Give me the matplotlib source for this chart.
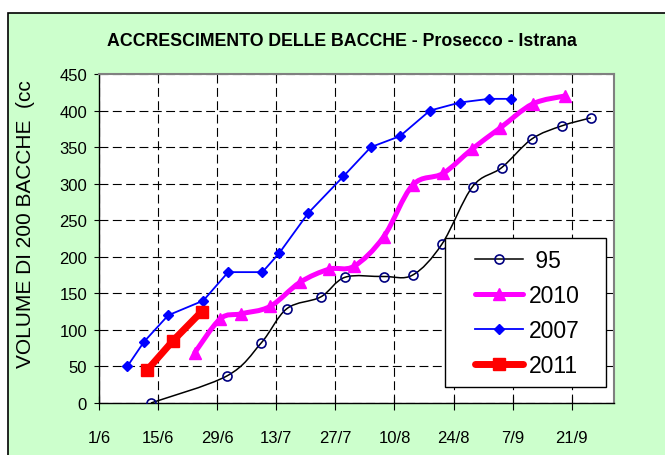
import matplotlib

matplotlib.use("Agg")
import matplotlib.pyplot as plt
import numpy as np
from matplotlib import font_manager as fm
from matplotlib.lines import Line2D
from matplotlib.patches import PathPatch, Rectangle
from matplotlib.path import Path

# x values are days after 1 June
days_95 = [12.3, 30.3, 38.4, 44.5, 52.5, 58.3, 67.4, 74.3, 81.2, 88.5, 95.4, 102.5, 109.6, 116.5]
vol_95 = [0, 37, 82, 129, 145, 172, 173, 175, 217, 296, 322, 361, 379, 390]

days_2010 = [22.7, 28.7, 33.6, 40.5, 47.6, 54.5, 60.4, 67.4, 74.3, 81.5, 88.3, 95.0, 102.7, 110.4]
vol_2010 = [69, 115, 122, 132, 165, 183, 187, 227, 298, 314, 347, 376, 409, 420]

days_2007 = [6.7, 10.7, 16.4, 24.7, 30.6, 38.7, 42.7, 49.6, 57.9, 64.4, 71.3, 78.4, 85.5, 92.4, 97.6]
vol_2007 = [50, 84, 120, 140, 179, 179, 205, 260, 310, 350, 365, 400, 411, 416, 416]

days_2011 = [11.4, 17.5, 24.3]
vol_2011 = [45, 85, 125]

tick_days = [0, 14, 28, 42, 56, 70, 84, 98, 112]
tick_labels = ["1/6", "15/6", "29/6", "13/7", "27/7", "10/8", "24/8", "7/9", "21/9"]

installed = {f.name for f in fm.fontManager.ttflist}
if "Liberation Sans Narrow" in installed:
    narrow, title_size, legend_size = "Liberation Sans Narrow", 15, 20
else:
    narrow, title_size, legend_size = "Liberation Sans", 12.8, 16.5
plt.rcParams["font.family"] = ["Liberation Sans", "DejaVu Sans"]


def smooth_path(x, y):
    """Excel-style smoothed line as cubic Bezier segments."""
    pts = np.column_stack([x, y]).astype(float)
    ext = np.vstack([pts[0], pts, pts[-1]])
    verts = [pts[0]]
    codes = [Path.MOVETO]
    for i in range(1, len(ext) - 2):
        p0, p1, p2, p3 = ext[i - 1], ext[i], ext[i + 1], ext[i + 2]
        verts += [p1 + (p2 - p0) / 6, p2 - (p3 - p1) / 6, p2]
        codes += [Path.CURVE4] * 3
    return Path(verts, codes)


fig = plt.figure(figsize=(6.65, 4.56), dpi=100, facecolor="white")
fig.patches.append(Rectangle((8 / 665, -0.1), 1.2, 0.1 + (456 - 14) / 456,
                             transform=fig.transFigure, facecolor="#CCFFCC",
                             edgecolor="black", linewidth=1.2, zorder=-10))

ax = fig.add_axes([99 / 665, 52 / 456, 515 / 665, 329 / 456])
ax.set_facecolor("white")

# 95
ax.add_patch(PathPatch(smooth_path(days_95, vol_95), fill=False, edgecolor="black",
                       linewidth=1.1, zorder=3))
ax.plot(days_95, vol_95, linestyle="none", marker="o", markersize=6.5,
        markerfacecolor="none", markeredgecolor="#000080", markeredgewidth=1.2, zorder=4)

# 2010
ax.add_patch(PathPatch(smooth_path(days_2010, vol_2010), fill=False, edgecolor="#FF00FF",
                       linewidth=3.6, capstyle="round", joinstyle="round", zorder=5))
ax.plot(days_2010, vol_2010, linestyle="none", marker="^", markersize=8.5,
        color="#FF00FF", zorder=6)

# 2007
ax.plot(days_2007, vol_2007, color="#0000FF", linewidth=1.3, marker="D", markersize=5.5,
        zorder=7)

# 2011
ax.plot(days_2011, vol_2011, color="#FF0000", linewidth=5, marker="s", markersize=8.5,
        solid_capstyle="round", solid_joinstyle="round", zorder=8)

ax.set_xlim(0, 122)
ax.set_ylim(0, 450)
ax.set_xticks(tick_days)
ax.set_xticklabels(tick_labels)
ax.set_yticks(range(0, 451, 50))
ax.tick_params(axis="x", direction="inout", length=9.4, width=0.8, pad=15,
               labelsize=12, colors="black")
ax.tick_params(axis="y", direction="out", length=3.6, width=0.8, pad=5,
               labelsize=12, colors="black")
ax.grid(True, color="black", linewidth=0.8, linestyle=(0, (8, 4)))
ax.set_axisbelow(True)
for side in ("left", "bottom"):
    ax.spines[side].set_color("black")
    ax.spines[side].set_linewidth(1.0)
for side in ("top", "right"):
    ax.spines[side].set_color("#808080")
    ax.spines[side].set_linewidth(1.5)

fig.text(342 / 665, (456 - 42) / 456, "ACCRESCIMENTO DELLE BACCHE - Prosecco - Istrana",
         ha="center", va="center", fontsize=title_size, fontweight="bold", family=narrow)
fig.text(26 / 665, (456 - 224) / 456, "VOLUME DI 200 BACCHE  (cc", rotation=90,
         ha="center", va="center", fontsize=15)

# legend
ax.add_patch(Rectangle(((445 - 99) / 515, (404 - 388) / 329), 161 / 515, 149 / 329,
                       transform=ax.transAxes, facecolor="white", edgecolor="black",
                       linewidth=1.0, zorder=20))
handles = [
    Line2D([], [], color="black", linewidth=1.1, marker="o", markersize=6.5,
           markerfacecolor="none", markeredgecolor="#000080", markeredgewidth=1.2),
    Line2D([], [], color="#FF00FF", linewidth=3.6, marker="^", markersize=8.5,
           solid_capstyle="round"),
    Line2D([], [], color="#0000FF", linewidth=1.3, marker="D", markersize=5.5),
    Line2D([], [], color="#FF0000", linewidth=5, marker="s", markersize=8.5,
           solid_capstyle="round"),
]
leg = ax.legend(handles, [" 95", "2010", "2007", "2011"], loc="upper left",
                bbox_to_anchor=((475 - 99) / 515, (404 - 250) / 329), borderaxespad=0,
                borderpad=0, frameon=False, handlelength=2.1, handletextpad=0.27,
                labelspacing=0.52, prop={"family": narrow, "size": legend_size})
leg.set_zorder(21)

fig.savefig("out.png", dpi=100, facecolor=fig.get_facecolor())
